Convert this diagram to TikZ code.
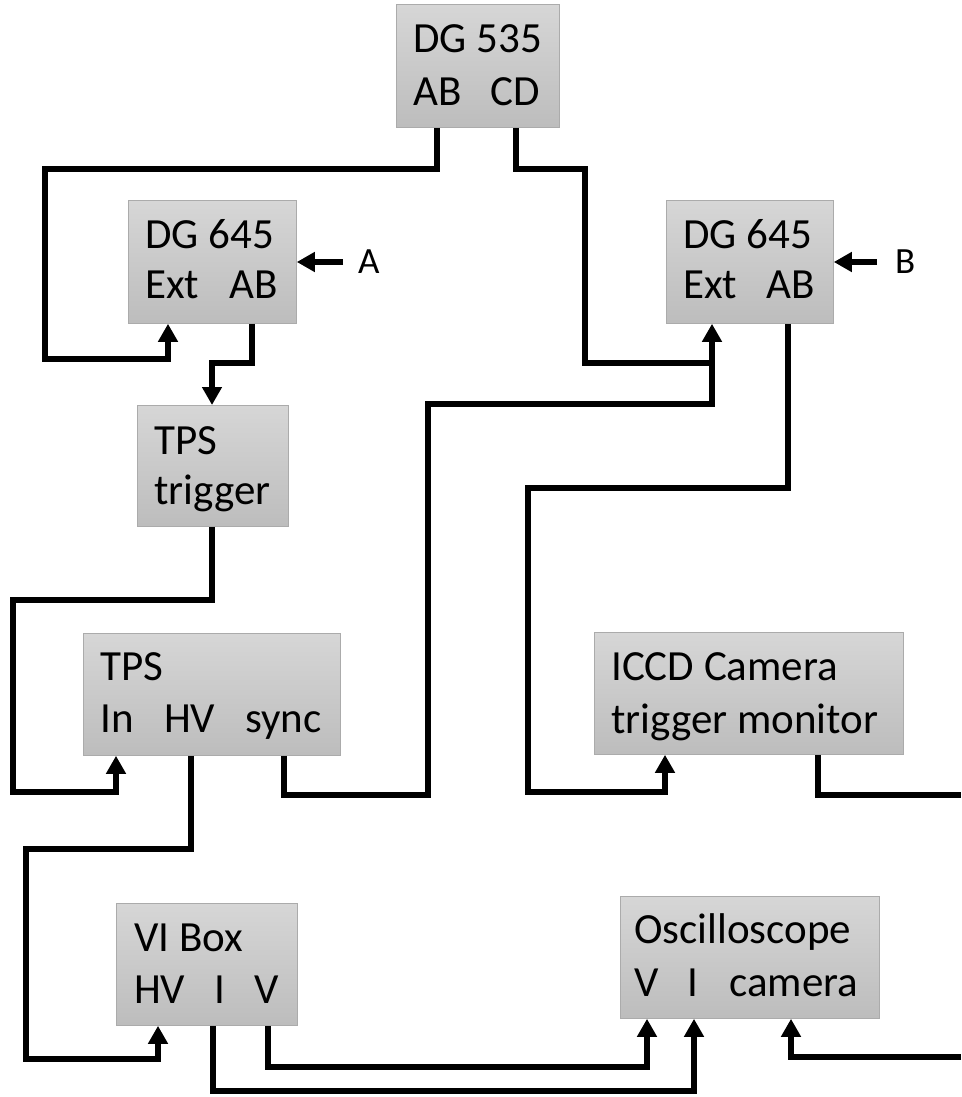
\documentclass[tikz,border=0pt]{standalone}
\usepackage{fontspec}
\setmainfont{Carlito}
\usetikzlibrary{arrows.meta}
\begin{document}
\begin{tikzpicture}[x=1pt,y=-1pt,
  boxst/.style={draw=black!33, line width=0.8pt, top color=black!16, bottom color=black!26, inner sep=0pt, anchor=north west},
  lbl/.style={anchor=base west, inner sep=0pt, font=\fontsize{43}{52}\selectfont},
  sidelbl/.style={anchor=base west, inner sep=0pt, font=\fontsize{37}{44}\selectfont},
  wire/.style={line width=6pt, line join=miter},
  arr/.style={wire, -{Triangle[length=18pt,width=19pt]}}
]
\useasboundingbox (0,0) rectangle (961,1097);

% boxes
\node[boxst, minimum width=163pt, minimum height=123pt] (dg535) at (396,4) {};
\node[boxst, minimum width=168pt, minimum height=123pt] (dgA) at (128,200) {};
\node[boxst, minimum width=167pt, minimum height=123pt] (dgB) at (666,200) {};
\node[boxst, minimum width=151pt, minimum height=121pt] (trig) at (137,405) {};
\node[boxst, minimum width=257pt, minimum height=122pt] (tps) at (83,633) {};
\node[boxst, minimum width=309pt, minimum height=122pt] (iccd) at (594,632) {};
\node[boxst, minimum width=181pt, minimum height=122pt] (vi) at (116,903) {};
\node[boxst, minimum width=259pt, minimum height=122pt] (osc) at (620,896) {};

% texts
\node[lbl] (t535a) at (413,53) {DG 535};
\node[lbl] (t535b) at (413,106) {AB};
\node[lbl] (t535c) at (490,106) {CD};
\node[lbl] (tAa) at (145,248) {DG 645};
\node[lbl] (tAb) at (145,298) {Ext};
\node[lbl] (tAc) at (229,298) {AB};
\node[lbl] (tBa) at (683,248) {DG 645};
\node[lbl] (tBb) at (683,298) {Ext};
\node[lbl] (tBc) at (766,298) {AB};
\node[lbl] (ttra) at (154,454) {TPS};
\node[lbl] (ttrb) at (154,504) {trigger};
\node[lbl] (ttpa) at (100,680) {TPS};
\node[lbl] (ttpb) at (100,732) {In};
\node[lbl] (ttpc) at (164,732) {HV};
\node[lbl] (ttpd) at (245,732) {sync};
\node[lbl] (tica) at (611,680) {ICCD Camera};
\node[lbl] (ticb) at (611,733) {trigger monitor};
\node[lbl] (tvia) at (134,951) {VI Box};
\node[lbl] (tvib) at (134,1003) {HV};
\node[lbl] (tvic) at (214,1003) {I};
\node[lbl] (tvid) at (254,1003) {V};
\node[lbl] (tosa) at (634,943) {Oscilloscope};
\node[lbl] (tosb) at (634,996) {V};
\node[lbl] (tosc) at (687,996) {I};
\node[lbl] (tosd) at (729,996) {camera};
\node[sidelbl] (labA) at (358,273) {A};
\node[sidelbl] (labB) at (895,273) {B};

% free ends
\coordinate (inA) at (343,262);
\coordinate (inB) at (877,262);
\coordinate (edge1) at (961,795);
\coordinate (edge2) at (961,1057);
\coordinate (merge) at (712,363);

% connectors
\draw[arr] (inA) -- (dgA.east |- inA);
\draw[arr] (inB) -- (dgB.east |- inB);
\draw[arr] (dg535.south -| 437,0) -- (437,169) -- (45,169) -- (45,359) -- (168,359) -- (dgA.south -| 168,0);
\draw[arr] (dg535.south -| 516,0) -- (516,169) -- (585,169) -- (585,363) -- (712,363) -- (dgB.south -| 712,0);
\draw[wire] (tps.south -| 284,0) -- (284,795) -- (428,795) -- (428,404) -- (712,404) -- (merge);
\draw[arr] (dgA.south -| 252,0) -- (252,363) -- (212,363) -- (trig.north -| 212,0);
\draw[arr] (trig.south -| 212,0) -- (212,600) -- (13,600) -- (13,792) -- (116,792) -- (tps.south -| 116,0);
\draw[arr] (tps.south -| 191,0) -- (191,849) -- (26,849) -- (26,1059) -- (158,1059) -- (vi.south -| 158,0);
\draw[arr] (dgB.south -| 788,0) -- (788,488) -- (528,488) -- (528,792) -- (665,792) -- (iccd.south -| 665,0);
\draw[wire] (iccd.south -| 818,0) -- (818,795) -- (edge1);
\draw[arr] (vi.south -| 213,0) -- (213,1091) -- (694,1091) -- (osc.south -| 694,0);
\draw[arr] (vi.south -| 268,0) -- (268,1067) -- (647,1067) -- (osc.south -| 647,0);
\draw[arr] (edge2) -- (791,1057) -- (osc.south -| 791,0);
\end{tikzpicture}
\end{document}
